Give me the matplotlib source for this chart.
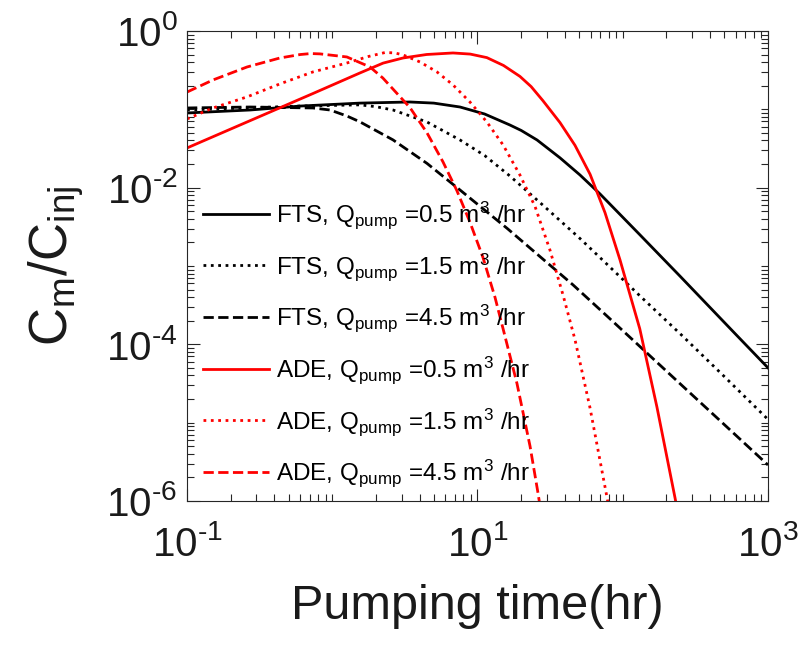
import matplotlib

matplotlib.use("Agg")

import matplotlib.pyplot as plt
import numpy as np
from matplotlib.ticker import FuncFormatter, LogLocator, NullFormatter

plt.rcParams["font.family"] = ["Liberation Sans", "DejaVu Sans"]
plt.rcParams["mathtext.default"] = "regular"
plt.rcParams["axes.unicode_minus"] = False

# values (log-log axes)
fts_05_t = [0.1, 0.272, 0.6, 1.55, 3.43, 5.0, 7.58, 11.2, 16.7, 20.0, 25.7, 37.0, 50.8,
            69.7, 131, 248, 612, 1000]
fts_05_c = [0.0898, 0.098, 0.110, 0.120, 0.124, 0.120, 0.107, 0.0871, 0.0631, 0.0537,
            0.0406, 0.0240, 0.0145, 0.00832, 0.00251, 7.41e-4, 1.29e-4, 5.01e-5]

fts_15_t = [0.1, 0.6, 1.55, 2.0, 2.62, 4.49, 7.58, 11.2, 16.7, 26.9, 50.8, 78.0, 131, 260,
            506, 1000]
fts_15_c = [0.098, 0.110, 0.114, 0.108, 0.098, 0.0689, 0.0406, 0.0257, 0.0141, 0.00646,
            0.00224, 0.00105, 4.17e-4, 1.26e-4, 3.80e-5, 1.10e-5]

fts_45_t = [0.1, 0.272, 0.736, 0.965, 1.26, 1.55, 2.62, 4.49, 7.58, 16.0, 26.9, 45.4, 78.0,
            125, 222, 446, 1000]
fts_45_c = [0.104, 0.107, 0.104, 0.098, 0.0822, 0.0692, 0.0407, 0.0204, 0.00933, 0.00302,
            0.00132, 5.75e-4, 2.29e-4, 1.02e-4, 3.80e-5, 1.15e-5, 2.88e-6]

ade_05_t = [0.1, 0.259, 0.736, 1.55, 2.24, 3.07, 4.47, 6.78, 8.91, 11.6, 15.1, 19.6, 23.4,
            28.2, 37.0, 46.9, 59.6, 75.5, 95.7, 131, 172, 229, 248]
ade_05_c = [0.0321, 0.0689, 0.159, 0.291, 0.389, 0.452, 0.501, 0.524, 0.507, 0.457, 0.363,
            0.263, 0.195, 0.129, 0.0676, 0.0347, 0.0148, 0.00479, 0.00120, 1.58e-4,
            1.58e-5, 1.10e-6, 5.0e-7]

ade_15_t = [0.1, 0.151, 0.259, 0.436, 0.736, 1.26, 1.78, 2.31, 2.69, 3.07, 4.02, 5.26, 6.78,
            8.87, 11.6, 15.0, 19.6, 24.9, 31.6, 38.8, 46.9, 59.5, 78.0, 84.4]
ade_15_c = [0.0753, 0.104, 0.144, 0.211, 0.300, 0.390, 0.473, 0.531, 0.525, 0.495, 0.402,
            0.300, 0.205, 0.124, 0.0689, 0.0351, 0.0145, 0.00575, 0.00158, 4.27e-4,
            1.15e-4, 1.55e-5, 1.10e-6, 4.9e-7]

ade_45_t = [0.1, 0.151, 0.259, 0.436, 0.600, 0.71, 0.823, 1.26, 1.82, 2.23, 3.43, 4.49, 5.78,
            7.22, 8.87, 10.9, 13.2, 15.0, 18.7, 23.0, 26.1, 28.2]
ade_45_c = [0.166, 0.237, 0.347, 0.452, 0.500, 0.515, 0.510, 0.466, 0.347, 0.251, 0.105,
            0.0501, 0.0214, 0.00912, 0.00363, 0.00129, 3.98e-4, 1.58e-4, 3.16e-5, 5.01e-6,
            1.26e-6, 5.0e-7]

labels = [
    r"FTS, Q$_{pump}$ =0.5 m$^{3}$ /hr",
    r"FTS, Q$_{pump}$ =1.5 m$^{3}$ /hr",
    r"FTS, Q$_{pump}$ =4.5 m$^{3}$ /hr",
    r"ADE, Q$_{pump}$ =0.5 m$^{3}$ /hr",
    r"ADE, Q$_{pump}$ =1.5 m$^{3}$ /hr",
    r"ADE, Q$_{pump}$ =4.5 m$^{3}$ /hr",
]

series = [
    (fts_05_t, fts_05_c, "k", "-"),
    (fts_15_t, fts_15_c, "k", ":"),
    (fts_45_t, fts_45_c, "k", "--"),
    (ade_05_t, ade_05_c, "#ff0000", "-"),
    (ade_15_t, ade_15_c, "#ff0000", ":"),
    (ade_45_t, ade_45_c, "#ff0000", "--"),
]


def decade_label(v, pos):
    e = int(round(np.log10(v)))
    if e < 0:
        return "$10^{\u2010%d}$" % abs(e)
    return "$10^{%d}$" % e


fig = plt.figure(figsize=(8.04, 6.48), dpi=100)
ax = fig.add_axes([0.2326, 0.2269, 0.7226, 0.7253])

for (t, c, color, ls), lab in zip(series, labels):
    ax.plot(t, c, color=color, linestyle=ls, linewidth=2.0, label=lab)

ax.set_xscale("log")
ax.set_yscale("log")
ax.set_xlim(0.1, 1000)
ax.set_ylim(1e-6, 1)

ax.set_xticks([0.1, 10, 1000])
ax.set_yticks([1e-6, 1e-4, 1e-2, 1])
ax.xaxis.set_major_formatter(FuncFormatter(decade_label))
ax.yaxis.set_major_formatter(FuncFormatter(decade_label))
ax.xaxis.set_minor_locator(LogLocator(base=10, subs=np.arange(1, 10), numticks=20))
ax.yaxis.set_minor_locator(LogLocator(base=10, subs=np.arange(1, 10), numticks=20))
ax.xaxis.set_minor_formatter(NullFormatter())
ax.yaxis.set_minor_formatter(NullFormatter())

dark = "#262626"
for s in ax.spines.values():
    s.set_color(dark)
    s.set_linewidth(0.8)
ax.tick_params(which="both", direction="in", top=True, right=True, colors=dark,
               labelcolor="#1a1a1a", width=0.8)
ax.tick_params(which="major", length=9, labelsize=29)
ax.tick_params(which="minor", length=5)
ax.tick_params(axis="x", which="major", pad=17)
ax.tick_params(axis="y", which="major", pad=7)

ax.set_xlabel("Pumping time(hr)", fontsize=35, color="#1a1a1a", labelpad=15)
ax.set_ylabel(r"C$_{m}$/C$_{inj}$", fontsize=38, color="#1a1a1a", labelpad=14)

ax.legend(loc="center left", bbox_to_anchor=(0.0275, 0.333), frameon=False,
          fontsize=17.5, handlelength=2.7, handletextpad=0.3, labelspacing=0.82,
          borderpad=0.0, borderaxespad=0.0)

fig.savefig("out.png", dpi=100)
